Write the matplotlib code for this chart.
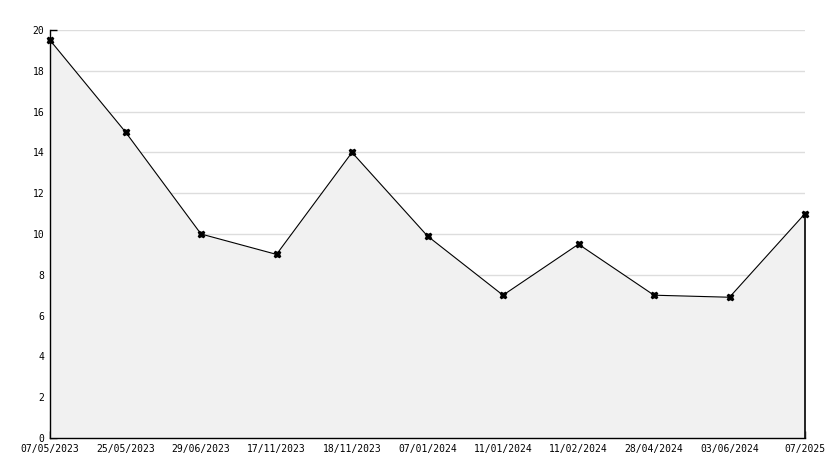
import matplotlib
matplotlib.use("Agg")
import matplotlib.pyplot as plt
from matplotlib.ticker import MultipleLocator

labels = ["07/05/2023", "25/05/2023", "29/06/2023", "17/11/2023", "18/11/2023",
          "07/01/2024", "11/01/2024", "11/02/2024", "28/04/2024", "03/06/2024", "07/2025"]
values = [19.5, 15.0, 10.0, 9.0, 14.0, 9.9, 7.0, 9.5, 7.0, 6.9, 11.0]

fig = plt.figure(figsize=(8.34, 4.68), dpi=100)
ax = fig.add_axes([50/834, 30/468, 755/834, 408/468])
x = list(range(len(values)))

ax.set_axisbelow(True)
ax.yaxis.grid(True, color="#dddddd", linewidth=1)
ax.fill_between(x, values, 0, color="#f1f1f1", zorder=2, linewidth=0)
ax.plot(x, values, color="black", linewidth=0.8, zorder=3, clip_on=False)
ax.plot(x, values, linestyle="none", marker="X", markersize=4.5, color="black",
        zorder=4, clip_on=False)
ax.vlines(x[-1], 0, values[-1], color="black", linewidth=1.2, zorder=3, clip_on=False)

ax.set_xlim(x[0], x[-1])
ax.set_ylim(0, 20)
ax.set_xticks(x)
ax.set_xticklabels(labels)
ax.yaxis.set_major_locator(MultipleLocator(2))
ax.yaxis.set_minor_locator(MultipleLocator(1))

for s in ["top", "right"]:
    ax.spines[s].set_visible(False)
for s in ["left", "bottom"]:
    ax.spines[s].set_linewidth(1)
    ax.spines[s].set_zorder(5)

ax.tick_params(axis="both", which="major", direction="in", length=5, width=1,
               labelsize=7, pad=4)
ax.tick_params(axis="y", which="minor", direction="in", length=3, width=1)
for lab in ax.get_xticklabels() + ax.get_yticklabels():
    lab.set_family("DejaVu Sans Mono")

fig.savefig("out.png", dpi=100)
